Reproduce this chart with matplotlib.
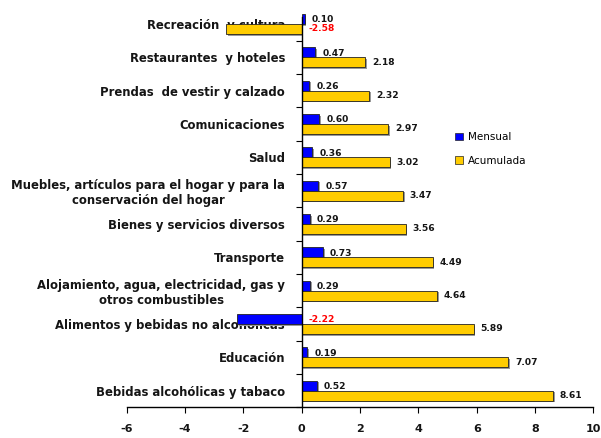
import matplotlib
matplotlib.use("Agg")
import matplotlib.pyplot as plt
import matplotlib.patheffects as pe
from matplotlib.patches import Patch

categorias = [
    "Recreación  y cultura",
    "Restaurantes  y hoteles",
    "Prendas  de vestir y calzado",
    "Comunicaciones",
    "Salud",
    "Muebles, artículos para el hogar y para la\nconservación del hogar",
    "Bienes y servicios diversos",
    "Transporte",
    "Alojamiento, agua, electricidad, gas y\notros combustibles",
    "Alimentos y bebidas no alcohólicas",
    "Educación",
    "Bebidas alcohólicas y tabaco",
]
mensual = [0.10, 0.47, 0.26, 0.60, 0.36, 0.57, 0.29, 0.73, 0.29, -2.22, 0.19, 0.52]
acumulada = [-2.58, 2.18, 2.32, 2.97, 3.02, 3.47, 3.56, 4.49, 4.64, 5.89, 7.07, 8.61]
xticks = [-6, -4, -2, 0, 2, 4, 6, 8, 10]

azul = "#0000FF"
amarillo = "#FFCC00"
texto = "#151515"

plt.rcParams['font.family'] = ['DejaVu Sans']

fig = plt.figure(figsize=(6.01, 4.38), dpi=100)
ax = fig.add_axes([0.2108, 0.0701, 0.7766, 0.9132])

n = len(categorias)
ypos = [n - 1 - i for i in range(n)]
h = 0.3
sombra = [pe.SimplePatchShadow(offset=(1.2, -1.2), shadow_rgbFace="#999999", alpha=1), pe.Normal()]

ax.barh([y + h / 2 for y in ypos], mensual, height=h, color=azul,
        edgecolor="#222222", linewidth=0.6, zorder=2, path_effects=sombra)
ax.barh([y - h / 2 for y in ypos], acumulada, height=h, color=amarillo,
        edgecolor="#222222", linewidth=0.6, zorder=2, path_effects=sombra)

for y, m, a in zip(ypos, mensual, acumulada):
    for v, yy in ((m, y + h / 2 - 0.03), (a, y - h / 2)):
        col = "#FF0000" if v < 0 else texto
        ax.annotate(f"{v:.2f}", xy=(max(v, 0), yy), xytext=(5, 0),
                    textcoords="offset points", ha="left", va="center",
                    fontsize=6.6, fontweight="bold", color=col, zorder=5)

ax.set_xlim(-6, 10)
ax.set_ylim(-0.5, n - 0.5)
ax.set_xticks(xticks)
ax.set_xticklabels([str(t) for t in xticks], fontsize=8, fontweight="bold", color=texto)

ax.spines['left'].set_position(('data', 0))
ax.spines['left'].set_bounds(-0.5, n - 0.78)
ax.spines['right'].set_visible(False)
ax.spines['top'].set_visible(False)
for s in ("left", "bottom"):
    ax.spines[s].set_linewidth(1.0)
    ax.spines[s].set_color("black")

ax.set_yticks([y - 0.5 for y in range(n)])
ax.set_yticklabels([])
ax.set_yticks(ypos, minor=True)
ax.set_yticklabels(categorias, minor=True, fontsize=8.4, fontweight="bold",
                   color=texto, ha="right", multialignment="center", linespacing=1.15)
ax.tick_params(axis="y", which="minor", length=0, pad=12)
ax.tick_params(axis="y", which="major", length=4, direction="out")
ax.tick_params(axis="x", length=4, direction="out", pad=8)

manejadores = [Patch(facecolor=azul, edgecolor="#222222", linewidth=0.5, label="Mensual"),
               Patch(facecolor=amarillo, edgecolor="#222222", linewidth=0.5, label="Acumulada")]
fig.legend(handles=manejadores, loc="upper left", bbox_to_anchor=(0.742, 0.72),
           frameon=False, fontsize=7.5, handlelength=0.7, handleheight=0.7,
           handletextpad=0.5, labelspacing=1.3)

fig.savefig("out.png", dpi=100)
